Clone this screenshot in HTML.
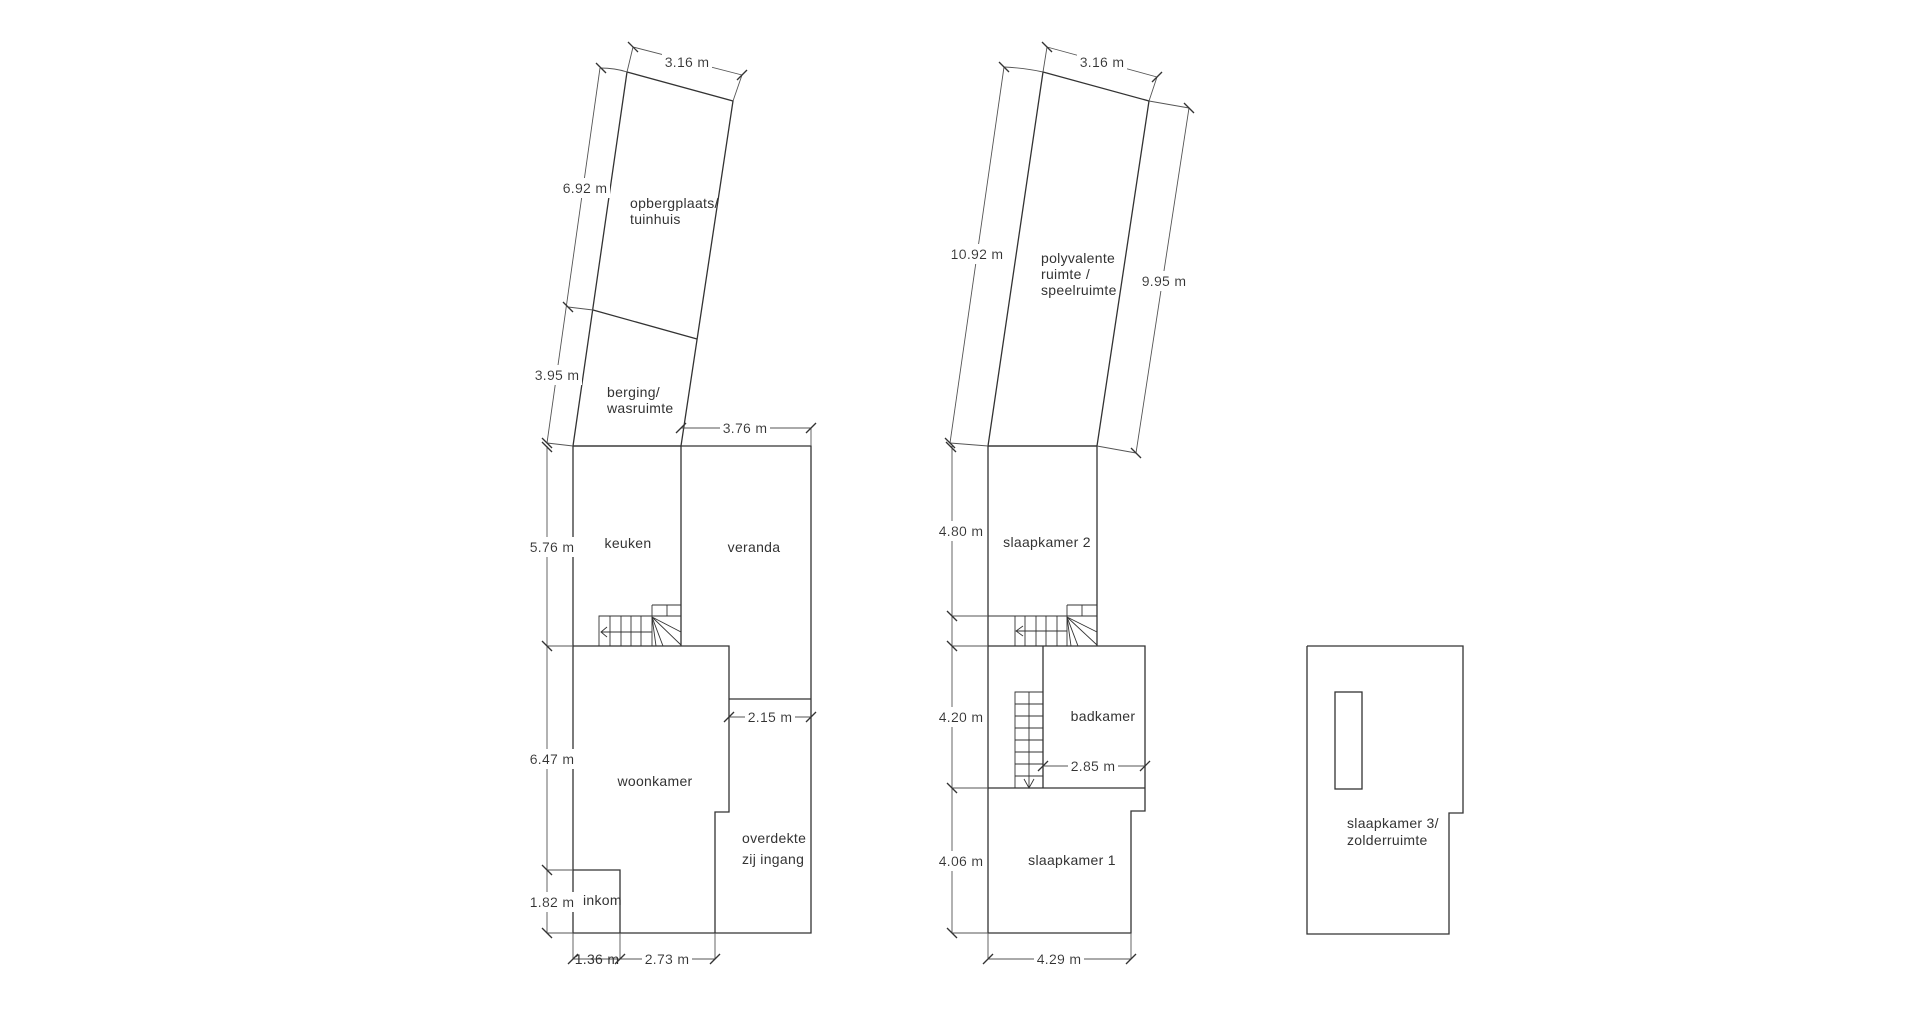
<!DOCTYPE html>
<html><head><meta charset="utf-8"><style>
html,body{margin:0;padding:0;background:#fff;width:1920px;height:1012px;overflow:hidden}
svg{display:block}
text{font-family:"Liberation Sans",sans-serif;font-size:14px;fill:#333;letter-spacing:0.3px;dominant-baseline:central}
.w{stroke:#333;stroke-width:1.3;fill:none}
.d{stroke:#555;stroke-width:0.9;fill:none}
.t{stroke:#333;stroke-width:1.3;fill:none}
.lb{filter:url(#bg)}
</style></head><body>
<svg width="1920" height="1012" viewBox="0 0 1920 1012" xmlns="http://www.w3.org/2000/svg">
<defs><filter id="bg" x="-0.06" y="-0.1" width="1.12" height="1.2"><feFlood flood-color="#ffffff"/><feComposite in="SourceGraphic" operator="over"/></filter></defs>
<g class="w">
<polygon points="627,72 733,101 681,446 573,446"/>
<line x1="593" y1="310" x2="697" y2="339"/>
<polyline points="573,446 811,446 811,933 573,933 573,446"/>
<line x1="681" y1="446" x2="681" y2="646"/>
<polyline points="573,646 729,646 729,812 715,812 715,933"/>
<line x1="729" y1="699" x2="811" y2="699"/>
<polyline points="573,870 620,870 620,933"/>
</g>
<g class="d" style="stroke:#333">
<polyline points="599,646 599,616 652,616"/>
<line x1="610" y1="616" x2="610" y2="646"/><line x1="621" y1="616" x2="621" y2="646"/>
<line x1="631" y1="616" x2="631" y2="646"/><line x1="641" y1="616" x2="641" y2="646"/>
<line x1="652" y1="605" x2="652" y2="646"/>
<polyline points="652,605 681,605"/><line x1="667" y1="605" x2="667" y2="616"/><line x1="652" y1="616" x2="681" y2="616"/>
<line x1="652" y1="617" x2="681" y2="632"/><line x1="652" y1="617" x2="681" y2="645"/>
<line x1="652" y1="617" x2="663" y2="646"/><line x1="652" y1="617" x2="656" y2="646"/>
<line x1="601" y1="632" x2="652" y2="632"/>
<polyline points="607,627 601,632 607,637"/>
</g>
<g class="d">
<line x1="600" y1="68" x2="547" y2="443"/>
<path d="M600,68 Q615,68 627,72"/><line x1="568" y1="307" x2="593" y2="310"/><line x1="547" y1="443" x2="573" y2="446"/>
<line x1="633" y1="47" x2="742" y2="75"/>
<line x1="633" y1="47" x2="627" y2="72"/><line x1="742" y1="75" x2="733" y2="101"/>
<line x1="681" y1="428" x2="811" y2="428"/><line x1="811" y1="428" x2="811" y2="446"/>
<line x1="547" y1="446" x2="547" y2="933"/>
<line x1="547" y1="646" x2="573" y2="646"/><line x1="547" y1="870" x2="573" y2="870"/><line x1="547" y1="933" x2="573" y2="933"/>
<line x1="573" y1="959" x2="715" y2="959"/>
<line x1="573" y1="933" x2="573" y2="959"/><line x1="620" y1="933" x2="620" y2="959"/><line x1="715" y1="933" x2="715" y2="959"/>
<line x1="729" y1="717" x2="811" y2="717"/>
</g>
<g class="t">
<line x1="596" y1="63" x2="606" y2="73"/><line x1="628" y1="42" x2="638" y2="52"/><line x1="737" y1="80" x2="747" y2="70"/>
<line x1="563" y1="302" x2="573" y2="312"/><line x1="542" y1="438" x2="552" y2="448"/><line x1="542" y1="442" x2="552" y2="452"/>
<line x1="676" y1="433" x2="686" y2="423"/><line x1="806" y1="433" x2="816" y2="423"/>
<line x1="542" y1="641" x2="552" y2="651"/><line x1="542" y1="865" x2="552" y2="875"/><line x1="542" y1="928" x2="552" y2="938"/>
<line x1="568" y1="964" x2="578" y2="954"/><line x1="615" y1="964" x2="625" y2="954"/><line x1="710" y1="964" x2="720" y2="954"/>
<line x1="724" y1="722" x2="734" y2="712"/><line x1="806" y1="722" x2="816" y2="712"/>
</g>
<g>
<text class="lb" x="687" y="62" text-anchor="middle">3.16 m</text>
<text class="lb" x="585" y="188" text-anchor="middle">6.92 m</text>
<text class="lb" x="557" y="375" text-anchor="middle">3.95 m</text>
<text class="lb" x="745" y="428" text-anchor="middle">3.76 m</text>
<text class="lb" x="552" y="547" text-anchor="middle">5.76 m</text>
<text class="lb" x="552" y="759" text-anchor="middle">6.47 m</text>
<text class="lb" x="552" y="902" text-anchor="middle">1.82 m</text>
<text x="597" y="959" text-anchor="middle">1.36 m</text>
<text class="lb" x="667" y="959" text-anchor="middle">2.73 m</text>
<text class="lb" x="770" y="717" text-anchor="middle">2.15 m</text>
<text x="630" y="203">opbergplaats/</text>
<text x="630" y="219">tuinhuis</text>
<text x="607" y="392">berging/</text>
<text x="607" y="408">wasruimte</text>
<text x="628" y="543" text-anchor="middle">keuken</text>
<text x="754" y="547" text-anchor="middle">veranda</text>
<text x="655" y="781" text-anchor="middle">woonkamer</text>
<text x="742" y="838">overdekte</text>
<text x="742" y="859">zij ingang</text>
<text x="583" y="900">inkom</text>
</g>

<g class="w">
<polygon points="1043,72 1149,101 1097,446 988,446"/>
<polyline points="988,446 1097,446 1097,646"/>
<line x1="988" y1="446" x2="988" y2="933"/>
<polyline points="988,646 1145,646 1145,811 1131,811 1131,933 988,933"/>
<line x1="988" y1="788" x2="1145" y2="788"/>
<line x1="1043" y1="646" x2="1043" y2="788"/>
</g>
<g class="d" style="stroke:#333">
<line x1="988" y1="616" x2="1097" y2="616"/>
<line x1="1015" y1="616" x2="1015" y2="646"/><line x1="1025" y1="616" x2="1025" y2="646"/>
<line x1="1036" y1="616" x2="1036" y2="646"/><line x1="1046" y1="616" x2="1046" y2="646"/>
<line x1="1057" y1="616" x2="1057" y2="646"/><line x1="1067" y1="605" x2="1067" y2="646"/>
<line x1="1067" y1="605" x2="1097" y2="605"/><line x1="1082" y1="605" x2="1082" y2="616"/><line x1="1097" y1="605" x2="1097" y2="616"/>
<line x1="1067" y1="617" x2="1097" y2="632"/><line x1="1067" y1="617" x2="1097" y2="645"/>
<line x1="1067" y1="617" x2="1078" y2="646"/><line x1="1067" y1="617" x2="1071" y2="646"/>
<line x1="1016" y1="631" x2="1067" y2="631"/>
<polyline points="1023,626 1016,631 1023,636"/>
<polyline points="1043,692 1015,692 1015,788"/>
<line x1="1029" y1="692" x2="1029" y2="788"/>
<line x1="1015" y1="704" x2="1043" y2="704"/><line x1="1015" y1="716" x2="1043" y2="716"/>
<line x1="1015" y1="728" x2="1043" y2="728"/><line x1="1015" y1="740" x2="1043" y2="740"/>
<line x1="1015" y1="752" x2="1043" y2="752"/><line x1="1015" y1="764" x2="1043" y2="764"/>
<line x1="1015" y1="776" x2="1043" y2="776"/>
<polyline points="1024,779 1029,788 1034,779"/>
</g>
<g class="d">
<line x1="1004" y1="67" x2="950" y2="443"/>
<path d="M1004,67 Q1025,68 1043,72"/><line x1="950" y1="443" x2="988" y2="446"/>
<line x1="1189" y1="108" x2="1136" y2="453"/>
<line x1="1149" y1="101" x2="1189" y2="108"/><line x1="1097" y1="446" x2="1136" y2="453"/>
<line x1="1047" y1="47" x2="1157" y2="77"/>
<line x1="1047" y1="47" x2="1043" y2="72"/><line x1="1157" y1="77" x2="1149" y2="101"/>
<line x1="952" y1="446" x2="952" y2="933"/>
<line x1="952" y1="616" x2="988" y2="616"/><line x1="952" y1="646" x2="988" y2="646"/><line x1="952" y1="788" x2="988" y2="788"/><line x1="952" y1="933" x2="988" y2="933"/>
<line x1="1043" y1="766" x2="1145" y2="766"/>
<line x1="988" y1="959" x2="1131" y2="959"/>
<line x1="988" y1="933" x2="988" y2="959"/><line x1="1131" y1="933" x2="1131" y2="959"/>
</g>
<g class="t">
<line x1="999" y1="62" x2="1009" y2="72"/><line x1="1042" y1="42" x2="1052" y2="52"/><line x1="1152" y1="82" x2="1162" y2="72"/>
<line x1="1184" y1="103" x2="1194" y2="113"/><line x1="1131" y1="448" x2="1141" y2="458"/>
<line x1="945" y1="438" x2="955" y2="448"/><line x1="946" y1="442" x2="956" y2="452"/>
<line x1="947" y1="611" x2="957" y2="621"/><line x1="947" y1="641" x2="957" y2="651"/>
<line x1="947" y1="783" x2="957" y2="793"/><line x1="947" y1="928" x2="957" y2="938"/>
<line x1="1038" y1="771" x2="1048" y2="761"/><line x1="1140" y1="771" x2="1150" y2="761"/>
<line x1="983" y1="964" x2="993" y2="954"/><line x1="1126" y1="964" x2="1136" y2="954"/>
</g>
<g>
<text class="lb" x="1102" y="62" text-anchor="middle">3.16 m</text>
<text class="lb" x="977" y="254" text-anchor="middle">10.92 m</text>
<text class="lb" x="1164" y="281" text-anchor="middle">9.95 m</text>
<text class="lb" x="961" y="531" text-anchor="middle">4.80 m</text>
<text class="lb" x="961" y="717" text-anchor="middle">4.20 m</text>
<text class="lb" x="961" y="861" text-anchor="middle">4.06 m</text>
<text class="lb" x="1093" y="766" text-anchor="middle">2.85 m</text>
<text class="lb" x="1059" y="959" text-anchor="middle">4.29 m</text>
<text x="1041" y="258">polyvalente</text>
<text x="1041" y="274">ruimte /</text>
<text x="1041" y="290">speelruimte</text>
<text x="1047" y="542" text-anchor="middle">slaapkamer 2</text>
<text x="1103" y="716" text-anchor="middle">badkamer</text>
<text x="1072" y="860" text-anchor="middle">slaapkamer 1</text>
</g>

<g class="w">
<polyline points="1307,646 1463,646 1463,813 1449,813 1449,934 1307,934 1307,646"/>
<rect x="1335" y="692" width="27" height="97"/>
</g>
<text x="1347" y="823">slaapkamer 3/</text>
<text x="1347" y="840">zolderruimte</text>
</svg>
</body></html>
